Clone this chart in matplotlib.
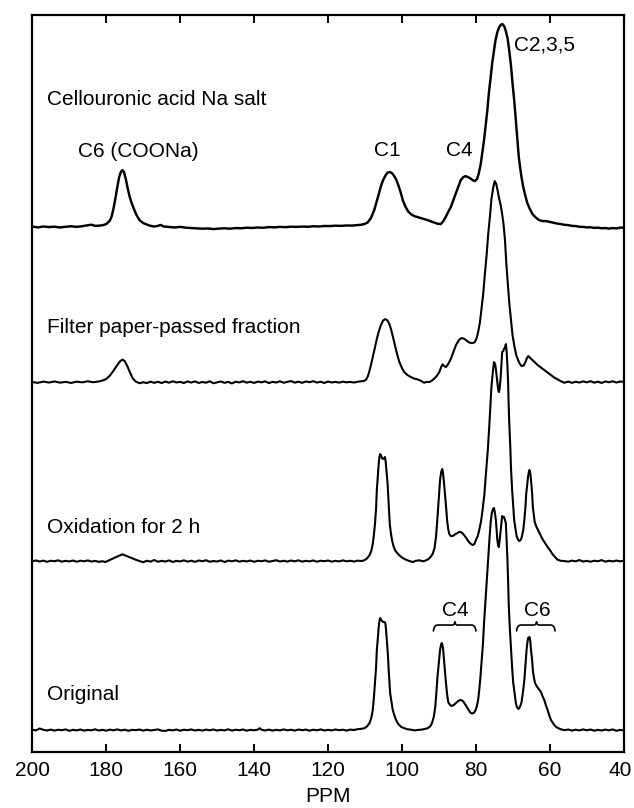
import matplotlib
matplotlib.use("Agg")
import matplotlib.pyplot as plt
import matplotlib.transforms as mtransforms

# ---------------- data (ppm, intensity above own baseline) ----------------
CELLOURONIC = [
    (200.0, 0.5), (198.5, -0.3), (197.0, 0.6), (195.5, 0.0), (194.0, 0.4), (192.5, -0.4),
    (191.0, 0.3), (189.5, 0.8), (188.0, 0.2), (186.5, 0.9), (185.0, 1.8), (184.0, 2.4),
    (183.0, 1.2), (182.0, 1.4), (181.0, 1.8), (180.0, 3.0), (179.0, 6.5), (178.5, 11.0),
    (178.0, 19.0), (177.5, 29.0), (177.0, 40.0), (176.5, 50.0), (176.0, 55.5), (175.6, 57.0),
    (175.2, 55.0), (174.7, 48.0), (174.2, 39.0), (173.7, 31.0), (173.2, 25.0), (172.5, 18.0),
    (171.8, 12.0), (171.0, 7.0), (170.0, 4.0), (169.0, 2.5), (168.0, 1.2), (167.0, 0.6),
    (166.0, 1.2), (165.3, 2.2), (164.5, 0.6), (163.0, 0.1), (161.5, -0.4), (160.0, 0.2),
    (158.5, -0.6), (157.0, -1.0), (155.5, -1.3), (154.0, -1.6), (152.5, -1.4), (151.0, -2.0),
    (149.5, -1.5), (148.0, -1.2), (146.5, -1.6), (145.0, -1.0), (143.5, -1.2), (142.0, -0.6),
    (140.5, -0.9), (139.0, -0.4), (137.5, -0.7), (136.0, 0.0), (134.5, -0.3), (133.0, 0.2),
    (131.5, -0.1), (130.0, 0.4), (128.5, 0.2), (127.0, 0.5), (125.5, 0.3), (124.0, 0.8),
    (122.5, 0.6), (121.0, 1.1), (119.5, 1.0), (118.0, 1.4), (116.5, 1.2), (115.0, 1.6),
    (113.5, 1.5), (112.0, 2.0), (111.1, 2.3), (110.2, 3.0), (109.3, 4.5), (108.4, 9.0),
    (107.5, 17.0), (106.8, 26.0), (106.2, 34.0), (105.7, 41.0), (105.1, 47.0), (104.4, 52.0),
    (103.9, 54.5), (103.3, 55.0), (102.7, 54.0), (102.1, 51.0), (101.5, 47.0), (100.9, 41.0),
    (100.3, 34.0), (99.7, 26.0), (99.0, 20.0), (98.3, 15.5), (97.6, 13.0), (96.7, 11.0),
    (95.8, 10.0), (94.5, 8.5), (93.1, 7.0), (92.0, 5.5), (90.9, 4.0), (90.2, 3.2), (89.5, 3.0),
    (88.8, 6.0), (88.2, 10.0), (87.5, 15.0), (86.8, 20.0), (86.1, 27.0), (85.5, 33.0),
    (84.8, 40.0), (84.1, 47.0), (83.4, 50.0), (82.8, 51.0), (82.2, 50.0), (81.6, 49.0),
    (80.9, 47.0), (80.3, 46.0), (79.7, 48.0), (79.2, 54.0), (78.7, 63.0), (78.3, 74.0),
    (77.8, 87.0), (77.4, 100.0), (76.9, 117.0), (76.5, 134.0), (76.0, 150.0), (75.6, 164.0),
    (75.1, 177.0), (74.7, 187.0), (74.2, 195.0), (73.7, 200.0), (73.2, 202.5), (72.8, 203.0),
    (72.3, 200.5), (71.9, 196.0), (71.4, 188.0), (71.0, 177.0), (70.5, 161.0), (70.1, 144.0),
    (69.6, 125.0), (69.2, 107.0), (68.8, 88.0), (68.4, 70.0), (67.8, 53.0), (67.2, 40.0),
    (66.6, 31.0), (66.1, 24.0), (65.4, 18.0), (64.7, 13.0), (63.8, 9.5), (62.9, 7.0),
    (62.0, 6.0), (61.0, 6.0), (60.0, 5.2), (59.0, 4.5), (58.0, 3.5), (57.0, 3.0), (56.0, 2.2),
    (55.0, 2.0), (54.0, 1.2), (53.0, 1.0), (52.0, 0.3), (51.0, 0.2), (50.0, -0.3), (49.0, -0.2),
    (48.0, -0.8), (47.0, -0.6), (46.0, -1.2), (45.0, -1.0), (44.0, -1.5), (43.0, -1.0),
    (42.0, -1.3), (41.0, -0.6), (40.0, -0.5),
]

FILTER_PASSED = [
    (200.0, 0.0), (198.5, -0.8), (197.0, 0.5), (195.5, -0.5), (194.0, 0.6), (192.5, -0.6),
    (191.0, 0.2), (189.5, -0.9), (188.0, 0.4), (186.5, -0.3), (185.0, 0.8), (183.5, -0.2),
    (182.0, 0.6), (181.0, 1.5), (180.0, 3.0), (179.0, 6.5), (178.0, 11.5), (177.0, 17.0),
    (176.2, 21.0), (175.6, 22.5), (175.0, 21.0), (174.3, 16.0), (173.5, 9.0), (172.8, 3.5),
    (172.0, 0.5), (171.0, -1.2), (170.0, -0.2), (169.0, -1.0), (168.0, 0.4), (167.0, -0.8),
    (166.0, 0.3), (165.0, -1.0), (164.0, 0.5), (163.0, -0.6), (162.0, 0.8), (161.0, -0.4),
    (160.0, 0.2), (159.0, -1.0), (158.0, 0.6), (157.0, -0.5), (156.0, 0.7), (155.0, -0.9),
    (154.0, 0.1), (153.0, -0.7), (152.0, 0.8), (151.0, -1.2), (150.0, -0.3), (149.0, 0.6),
    (148.0, -0.8), (147.0, 0.2), (146.0, -1.4), (145.0, 0.4), (144.0, -0.4), (143.0, 0.9),
    (142.0, -0.6), (141.0, 0.3), (140.0, -0.9), (139.0, 0.5), (138.0, -0.3), (137.0, 0.7),
    (136.0, -1.0), (135.0, 0.2), (134.0, -0.5), (133.0, 0.8), (132.0, -0.7), (131.0, 0.1),
    (130.0, 1.0), (129.0, -0.6), (128.0, 0.4), (127.0, -0.8), (126.0, 0.6), (125.0, -0.2),
    (124.0, 0.9), (123.0, -0.5), (122.0, 0.3), (121.0, -0.9), (120.0, 0.5), (119.0, -0.4),
    (118.0, 0.2), (117.0, -0.6), (116.0, 0.4), (115.0, -0.3), (114.0, 0.2), (113.0, -0.5),
    (112.0, 0.3), (111.0, 0.8), (110.3, 1.0), (109.7, 2.5), (109.2, 6.0), (108.8, 11.0),
    (108.4, 17.0), (107.9, 25.0), (107.4, 33.0), (107.0, 40.0), (106.4, 49.0), (105.7, 57.0),
    (105.1, 61.5), (104.5, 63.0), (103.9, 61.5), (103.4, 58.0), (102.9, 52.0), (102.5, 46.0),
    (102.1, 40.0), (101.6, 32.0), (101.1, 25.0), (100.7, 20.0), (100.0, 14.0), (99.4, 10.0),
    (98.5, 7.0), (97.6, 5.0), (96.7, 3.5), (95.8, 2.7), (95.0, 1.5), (94.0, -0.7), (93.3, 0.2),
    (92.6, 0.0), (91.9, 1.5), (91.3, 3.3), (90.6, 6.0), (89.9, 10.0), (89.4, 15.0),
    (89.0, 17.7), (88.6, 16.0), (88.1, 15.0), (87.5, 18.0), (86.8, 23.0), (86.1, 30.0),
    (85.4, 37.0), (84.6, 42.0), (83.9, 44.0), (83.3, 43.5), (82.7, 42.0), (82.0, 40.0),
    (81.4, 39.0), (80.8, 39.0), (80.3, 40.0), (79.8, 44.0), (79.4, 50.0), (78.9, 60.0),
    (78.5, 73.0), (78.0, 89.0), (77.6, 107.0), (77.1, 127.0), (76.7, 147.0), (76.2, 166.0),
    (75.8, 183.0), (75.3, 195.0), (74.9, 201.0), (74.5, 198.0), (74.2, 193.0), (73.8, 185.0),
    (73.3, 177.0), (72.9, 168.0), (72.5, 157.0), (72.1, 140.0), (71.8, 120.0), (71.4, 100.0),
    (71.0, 80.0), (70.5, 62.0), (70.1, 47.0), (69.6, 36.0), (69.1, 27.0), (68.6, 22.0),
    (68.1, 18.0), (67.6, 16.0), (67.1, 16.5), (66.6, 20.0), (66.2, 24.0), (65.8, 26.0),
    (65.3, 24.0), (64.7, 22.0), (64.0, 19.5), (63.3, 17.0), (62.4, 14.5), (61.5, 12.0),
    (60.6, 9.5), (59.7, 7.0), (58.8, 4.5), (57.9, 2.7), (57.0, 0.8), (56.1, -0.7), (55.0, 0.5),
    (54.0, -0.8), (53.0, 0.3), (52.0, -0.5), (51.0, 0.7), (50.0, -0.3), (49.0, 0.9),
    (48.0, -0.6), (47.0, 0.4), (46.0, -0.9), (45.0, 0.6), (44.0, -0.2), (43.0, 0.8),
    (42.0, -0.5), (41.0, 0.5), (40.0, 0.2),
]

OXIDATION_2H = [
    (200.0, -0.3), (199.0, 0.6), (198.0, -0.5), (197.0, 0.4), (196.0, -0.8), (195.0, 0.3),
    (194.0, -0.2), (193.0, 0.7), (192.0, -0.6), (191.0, 0.2), (190.0, -0.4), (189.0, 0.5),
    (188.0, -0.7), (187.0, 0.3), (186.0, -0.3), (185.0, 0.6), (184.0, -0.5), (183.0, 0.1),
    (182.0, -0.8), (181.0, -0.2), (180.2, -1.0), (179.2, 0.8), (178.2, 2.5), (177.3, 4.0),
    (176.4, 5.5), (175.6, 6.7), (174.8, 5.5), (173.8, 4.0), (172.8, 2.5), (171.8, 1.0),
    (170.8, -0.2), (170.0, -1.2), (169.0, 0.3), (168.0, -0.6), (167.0, 1.0), (166.0, -0.7),
    (165.0, 0.2), (164.0, -0.5), (163.0, 0.6), (162.0, -0.9), (161.0, 0.1), (160.0, -0.4),
    (159.0, 0.7), (158.0, -0.6), (157.0, 0.3), (156.0, -0.8), (155.0, 0.5), (154.0, -0.2),
    (153.0, 0.8), (152.0, -0.7), (151.0, 0.0), (150.0, -0.5), (149.0, 0.6), (148.0, -1.0),
    (147.0, 0.4), (146.0, -0.3), (145.0, 0.7), (144.0, -0.6), (143.0, 0.2), (142.0, -0.4),
    (141.0, 0.5), (140.0, -0.8), (139.0, 0.3), (138.0, -0.2), (137.0, 0.6), (136.0, -0.7),
    (135.0, 0.1), (134.0, 0.8), (133.0, -0.5), (132.0, 0.3), (131.0, -0.6), (130.0, 0.5),
    (129.0, -0.3), (128.0, 0.7), (127.0, -0.6), (126.0, 0.2), (125.0, -0.4), (124.0, 0.6),
    (123.0, -0.7), (122.0, 0.3), (121.0, -0.2), (120.0, 0.5), (119.0, -0.6), (118.0, 0.2),
    (117.0, -0.4), (116.0, 0.7), (115.0, -0.3), (114.0, 0.3), (113.0, -0.5), (112.0, 0.4),
    (111.0, 0.0), (110.2, 0.7), (109.5, 2.5), (108.8, 5.7), (108.3, 10.0), (107.9, 17.0),
    (107.6, 26.0), (107.3, 37.0), (107.0, 53.0), (106.8, 71.0), (106.5, 86.0), (106.3, 97.0),
    (106.1, 104.0), (105.9, 107.0), (105.6, 105.0), (105.4, 103.0), (105.1, 102.0),
    (104.8, 103.0), (104.6, 104.0), (104.4, 99.0), (104.2, 91.0), (103.9, 78.0), (103.7, 64.0),
    (103.5, 50.0), (103.3, 37.0), (103.0, 28.0), (102.7, 21.0), (102.3, 15.0), (101.9, 11.0),
    (101.3, 8.0), (100.7, 5.7), (99.8, 3.0), (98.9, 1.3), (98.0, 0.0), (97.1, -1.0),
    (96.2, 0.3), (95.3, 0.7), (94.2, -0.3), (93.1, 1.3), (92.4, 3.5), (91.7, 7.0), (91.2, 13.0),
    (90.8, 24.0), (90.5, 38.0), (90.2, 54.0), (89.9, 69.0), (89.7, 81.0), (89.4, 89.0),
    (89.1, 92.0), (88.9, 88.0), (88.6, 77.0), (88.3, 64.0), (88.0, 51.0), (87.8, 41.0),
    (87.5, 32.0), (87.2, 27.0), (86.8, 25.0), (86.3, 25.0), (85.9, 26.0), (85.5, 27.0),
    (85.0, 28.0), (84.6, 29.0), (84.1, 29.0), (83.7, 28.0), (83.2, 26.0), (82.6, 23.0),
    (82.1, 20.0), (81.5, 17.5), (80.9, 16.0), (80.4, 17.0), (80.0, 21.0), (79.5, 25.0),
    (79.1, 31.0), (78.6, 40.0), (78.2, 51.0), (77.7, 67.0), (77.3, 87.0), (76.8, 110.0),
    (76.4, 134.0), (76.1, 155.0), (75.8, 174.0), (75.4, 190.0), (75.1, 199.0), (74.8, 197.0),
    (74.6, 192.0), (74.4, 185.0), (74.2, 177.0), (74.0, 172.0), (73.8, 169.0), (73.6, 172.0),
    (73.3, 184.0), (73.1, 197.0), (72.9, 209.0), (72.6, 210.0), (72.4, 212.0), (72.1, 214.0),
    (71.9, 217.0), (71.7, 210.0), (71.5, 197.0), (71.3, 180.0), (71.2, 164.0), (71.0, 140.0),
    (70.7, 114.0), (70.5, 92.0), (70.2, 71.0), (69.9, 55.0), (69.65, 41.0), (69.3, 32.0),
    (69.0, 25.0), (68.6, 21.5), (68.3, 20.0), (67.9, 21.0), (67.6, 24.0), (67.2, 31.0),
    (66.9, 41.0), (66.6, 54.0), (66.4, 67.0), (66.1, 77.0), (65.9, 84.0), (65.7, 89.0),
    (65.5, 91.0), (65.3, 88.0), (65.1, 81.0), (64.8, 68.0), (64.6, 54.0), (64.3, 45.0),
    (64.1, 39.0), (63.6, 34.0), (63.2, 31.0), (62.6, 26.5), (62.0, 22.0), (61.3, 18.0),
    (60.6, 14.0), (59.9, 10.5), (59.3, 7.0), (58.6, 4.0), (57.9, 1.3), (57.0, 0.2), (56.1, 0.0),
    (55.0, -0.6), (54.0, 0.4), (53.0, -0.3), (52.0, 1.0), (51.0, -0.5), (50.0, 0.2),
    (49.0, -0.7), (48.0, 0.3), (47.0, -0.2), (46.0, 0.9), (45.0, -0.6), (44.0, 0.3),
    (43.0, -0.4), (42.0, 0.5), (41.0, -0.3), (40.0, 0.2),
]

ORIGINAL = [
    (200.0, 0.3), (199.0, -0.4), (198.0, 1.5), (197.0, 0.2), (196.0, -0.5), (195.0, 0.4),
    (194.0, -0.6), (193.0, 0.3), (192.0, -0.2), (191.0, 0.6), (190.0, -0.8), (189.0, 0.2),
    (188.0, -0.4), (187.0, 0.5), (186.0, -0.6), (185.0, 0.1), (184.0, -0.3), (183.0, 0.7),
    (182.0, -0.5), (181.0, 0.2), (180.0, -0.7), (179.0, 0.4), (178.0, -0.3), (177.0, 0.6),
    (176.0, -0.4), (175.0, 0.3), (174.0, -0.8), (173.0, 0.2), (172.0, -0.2), (171.0, 0.5),
    (170.0, -0.6), (169.0, 0.3), (168.0, -0.5), (167.0, 0.1), (166.0, 0.6), (165.0, -0.7),
    (164.0, -0.9), (163.0, 0.2), (162.0, -0.4), (161.0, 0.5), (160.0, -0.7), (159.0, 0.3),
    (158.0, -0.2), (157.0, 0.6), (156.0, -0.5), (155.0, 0.2), (154.0, -0.6), (153.0, 0.4),
    (152.0, -0.3), (151.0, 0.5), (150.0, -0.5), (149.0, 0.1), (148.0, -0.4), (147.0, 0.7),
    (146.0, -0.6), (145.0, 0.3), (144.0, -0.2), (143.0, 0.5), (142.0, -0.7), (141.0, 0.2),
    (140.0, -0.3), (139.0, 0.4), (138.5, 1.8), (138.0, 0.3), (137.0, -0.5), (136.0, 0.4),
    (135.0, -0.6), (134.0, 0.2), (133.0, -0.4), (132.0, 0.6), (131.0, -0.3), (130.0, 0.3),
    (129.0, -0.6), (128.0, 0.5), (127.0, -0.2), (126.0, 0.4), (125.0, -0.7), (124.0, 0.3),
    (123.0, -0.3), (122.0, 0.6), (121.0, -0.5), (120.0, 0.2), (119.0, -0.4), (118.0, 0.5),
    (117.0, -0.2), (116.0, 0.3), (115.0, -0.6), (114.0, 0.4), (113.0, 0.0), (112.0, 0.8),
    (111.0, 1.2), (110.2, 1.7), (109.5, 3.5), (108.8, 6.7), (108.3, 12.0), (107.9, 20.0),
    (107.6, 32.0), (107.3, 47.0), (107.0, 63.0), (106.8, 80.0), (106.5, 93.0), (106.3, 103.0),
    (106.1, 109.0), (105.9, 112.0), (105.6, 110.0), (105.4, 109.0), (105.2, 108.5),
    (105.0, 108.0), (104.7, 108.0), (104.5, 107.0), (104.3, 100.0), (104.1, 90.0),
    (103.8, 75.0), (103.6, 60.0), (103.4, 48.0), (103.2, 37.0), (102.8, 27.0), (102.5, 20.0),
    (102.0, 14.0), (101.6, 10.0), (101.0, 6.0), (100.3, 3.3), (99.4, 1.8), (98.5, 0.7),
    (97.5, 0.3), (96.6, -0.4), (95.8, 0.0), (94.5, 0.5), (93.1, 1.7), (92.4, 3.5), (91.9, 6.7),
    (91.4, 13.0), (91.0, 23.0), (90.7, 37.0), (90.4, 53.0), (90.0, 68.0), (89.7, 80.0),
    (89.4, 86.0), (89.2, 87.0), (88.9, 82.0), (88.7, 73.0), (88.4, 60.0), (88.1, 47.0),
    (87.8, 36.0), (87.5, 28.0), (87.0, 25.0), (86.6, 24.0), (86.0, 25.0), (85.4, 27.0),
    (84.8, 29.0), (84.2, 30.0), (83.7, 29.5), (83.3, 28.0), (82.8, 25.0), (82.3, 22.0),
    (81.8, 19.0), (81.4, 17.0), (81.0, 16.5), (80.6, 17.0), (80.2, 19.0), (79.8, 23.0),
    (79.4, 30.0), (79.1, 40.0), (78.8, 52.0), (78.5, 67.0), (78.1, 86.0), (77.8, 107.0),
    (77.4, 130.0), (77.0, 153.0), (76.6, 175.0), (76.3, 193.0), (76.0, 208.0), (75.7, 217.0),
    (75.4, 221.0), (75.1, 222.0), (74.9, 218.0), (74.6, 210.0), (74.4, 200.0), (74.2, 190.0),
    (74.0, 185.0), (73.8, 183.0), (73.6, 189.0), (73.3, 200.0), (73.1, 208.0), (72.9, 214.0),
    (72.6, 213.0), (72.4, 213.0), (72.2, 211.0), (71.9, 207.0), (71.7, 190.0), (71.5, 173.0),
    (71.3, 150.0), (71.1, 123.0), (70.8, 100.0), (70.5, 80.0), (70.2, 62.0), (69.9, 47.0),
    (69.5, 36.0), (69.2, 27.0), (68.9, 23.0), (68.5, 21.0), (68.1, 23.0), (67.7, 27.0),
    (67.3, 37.0), (66.9, 50.0), (66.6, 65.0), (66.3, 80.0), (66.1, 87.0), (65.9, 92.0),
    (65.5, 93.0), (65.3, 89.0), (65.1, 80.0), (64.8, 70.0), (64.6, 60.0), (64.3, 52.0),
    (64.0, 47.0), (63.6, 44.0), (63.2, 42.0), (62.8, 40.0), (62.4, 38.0), (62.0, 34.0),
    (61.5, 30.0), (61.1, 25.0), (60.6, 20.0), (60.2, 15.0), (59.7, 10.0), (59.0, 6.0),
    (58.4, 3.3), (57.7, 1.8), (57.0, 0.7), (56.0, -0.2), (55.0, 0.5), (54.0, -0.6), (53.0, 0.3),
    (52.0, -0.4), (51.0, 0.6), (50.0, -0.3), (49.0, 0.5), (48.0, -0.7), (47.0, 0.2),
    (46.0, -0.5), (45.0, 0.4), (44.0, -0.3), (43.0, 0.6), (42.0, -0.8), (41.0, 0.1),
    (40.0, -0.5),
]

SPECTRA = [CELLOURONIC, FILTER_PASSED, OXIDATION_2H, ORIGINAL]
SAMPLE_LABELS = ["Cellouronic acid Na salt", "Filter paper-passed fraction",
                 "Oxidation for 2 h", "Original"]
BASELINES = [525, 370, 191, 22]          # vertical offset of each trace
LABEL_Y = [647, 419, 219, 52]            # baseline of each sample label
PEAK_LABELS = [("C6 (COONa)", 171.2, 595, "center"), ("C1", 103.9, 596, "center"),
               ("C4", 84.5, 596, "center"), ("C2,3,5", 69.8, 702, "left"),
               ("C4", 85.7, 136, "center"), ("C6", 63.4, 136, "center")]
BRACES = [(91.5, 80.0, 85.7), (69.0, 58.6, 63.6)]
XTICKS = [200, 180, 160, 140, 120, 100, 80, 60, 40]

# ---------------- figure ----------------
plt.rcParams['font.family'] = ['Liberation Sans', 'DejaVu Sans']
fig = plt.figure(figsize=(6.34, 8.08), dpi=100)
ax = fig.add_axes([0.0509, 0.0693, 0.933, 0.912])

for i, (spec, off) in enumerate(zip(SPECTRA, BASELINES)):
    xs = [p for p, _ in spec]
    ys = [h + off for _, h in spec]
    ax.plot(xs, ys, color='black', lw=1.75 if i == 0 else 1.5,
            solid_joinstyle='round')

for lab, y in zip(SAMPLE_LABELS, LABEL_Y):
    ax.text(196.0, y, lab, fontsize=15, ha='left', va='baseline')

for lab, x, y, ha in PEAK_LABELS:
    ax.text(x, y, lab, fontsize=15, ha=ha, va='baseline')

# curly braces under the lower C4 / C6 labels
bar_y, drop, rise = 127, 5.7, 3.3
for x0, x1, xc in BRACES:
    bx = [x0, x0 - 0.2, x0 - 0.6, x0 - 1.1, xc + 0.5, xc + 0.15, xc,
          xc - 0.15, xc - 0.5, x1 + 1.1, x1 + 0.6, x1 + 0.2, x1]
    by = [bar_y - drop, bar_y - 2.5, bar_y - 0.6, bar_y, bar_y, bar_y + 1.2, bar_y + rise,
          bar_y + 1.2, bar_y, bar_y, bar_y - 0.6, bar_y - 2.5, bar_y - drop]
    ax.plot(bx, by, color='black', lw=1.2)

ax.set_xlim(200, 40)
ax.set_ylim(0, 737)
ax.set_xticks(XTICKS)
ax.set_yticks([])
ax.tick_params(axis='x', direction='in', length=6, width=1.4, top=True,
               labelsize=15, pad=6.5)
for s in ax.spines.values():
    s.set_linewidth(1.6)
ax.set_xlabel("PPM", fontsize=15, labelpad=5)

# keep the rightmost tick label inside the canvas
fig.canvas.draw()
last = ax.get_xticklabels()[-1]
last.set_transform(last.get_transform() +
                   mtransforms.ScaledTranslation(-4 / 100, 0, fig.dpi_scale_trans))

fig.savefig("out.png", dpi=100, facecolor='white')
